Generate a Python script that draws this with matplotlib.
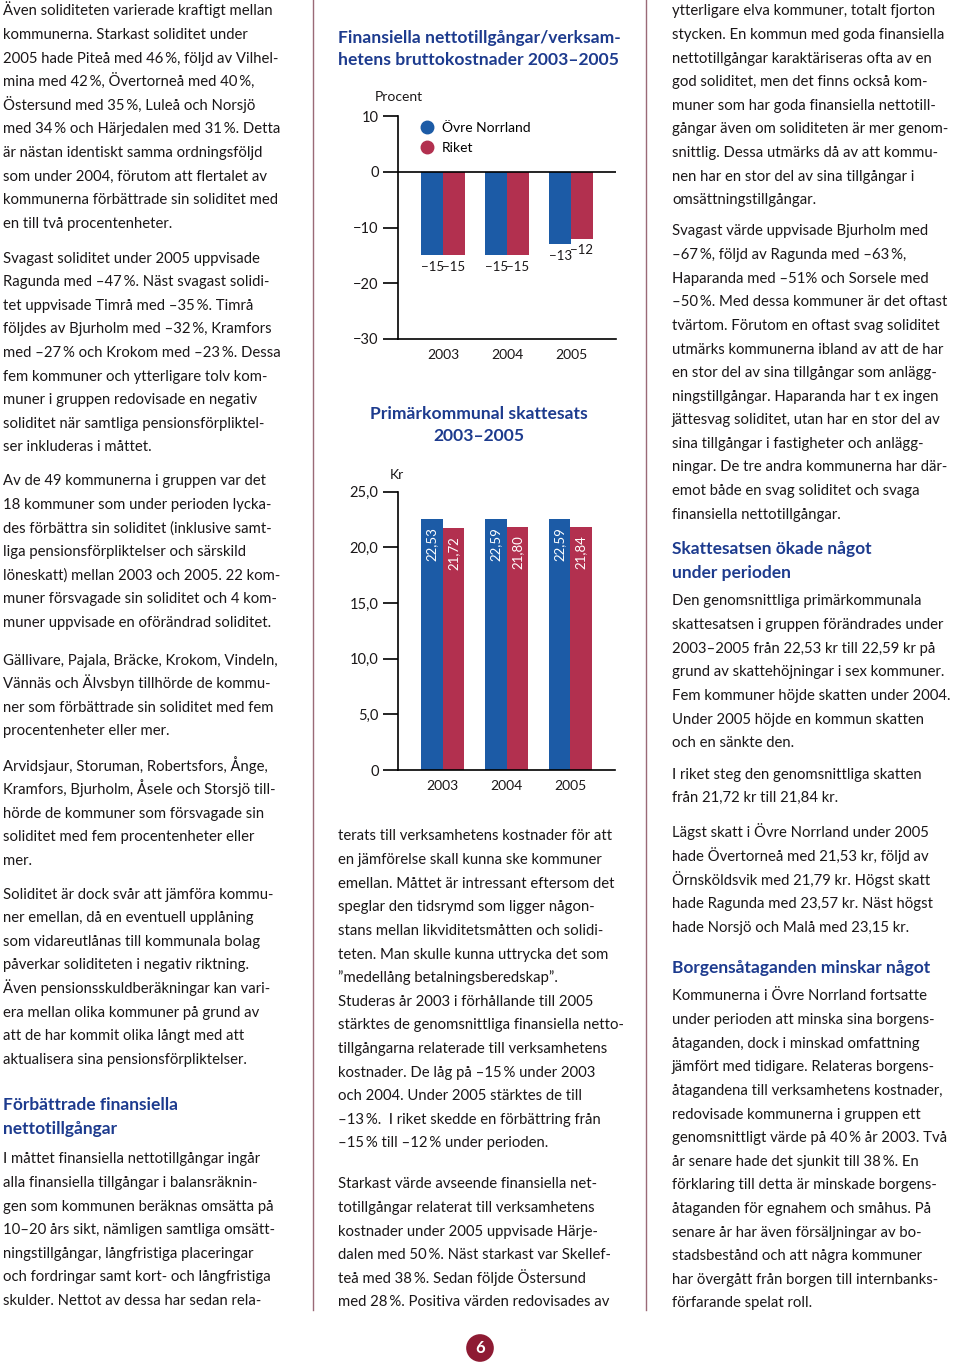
import matplotlib.pyplot as plt
from matplotlib.lines import Line2D

plt.rcParams['font.family'] = ['Lato', 'DejaVu Sans']

W, H = 960, 1368
TXT = '#1a1718'
HEAD = '#1d3b8e'
BLUE = '#1c5ba6'
RED = '#b2304f'
RULE = '#9a6a77'

# chart data
years = ['2003', '2004', '2005']
netto_norr = [-15, -15, -13]
netto_riket = [-15, -15, -12]
skatt_norr = [22.53, 22.59, 22.59]
skatt_riket = [21.72, 21.80, 21.84]

# page text, one list per paragraph
col1 = [
    ["Även soliditeten varierade kraftigt mellan",
     "kommunerna. Starkast soliditet under",
     "2005 hade Piteå med 46\u2009%, följd av Vilhel-",
     "mina med 42\u2009%, Övertorneå med 40\u2009%,",
     "Östersund med 35\u2009%, Luleå och Norsjö",
     "med 34\u2009% och Härjedalen med 31\u2009%. Detta",
     "är nästan identiskt samma ordningsföljd",
     "som under 2004, förutom att flertalet av",
     "kommunerna förbättrade sin soliditet med",
     "en till två procentenheter."],
    ["Svagast soliditet under 2005 uppvisade",
     "Ragunda med –47\u2009%. Näst svagast solidi-",
     "tet uppvisade Timrå med –35\u2009%. Timrå",
     "följdes av Bjurholm med –32\u2009%, Kramfors",
     "med –27\u2009% och Krokom med –23\u2009%. Dessa",
     "fem kommuner och ytterligare tolv kom-",
     "muner i gruppen redovisade en negativ",
     "soliditet när samtliga pensionsförpliktel-",
     "ser inkluderas i måttet."],
    ["Av de 49 kommunerna i gruppen var det",
     "18 kommuner som under perioden lycka-",
     "des förbättra sin soliditet (inklusive samt-",
     "liga pensionsförpliktelser och särskild",
     "löneskatt) mellan 2003 och 2005. 22 kom-",
     "muner försvagade sin soliditet och 4 kom-",
     "muner uppvisade en oförändrad soliditet."],
    ["Gällivare, Pajala, Bräcke, Krokom, Vindeln,",
     "Vännäs och Älvsbyn tillhörde de kommu-",
     "ner som förbättrade sin soliditet med fem",
     "procentenheter eller mer."],
    ["Arvidsjaur, Storuman, Robertsfors, Ånge,",
     "Kramfors, Bjurholm, Åsele och Storsjö till-",
     "hörde de kommuner som försvagade sin",
     "soliditet med fem procentenheter eller",
     "mer."],
    ["Soliditet är dock svår att jämföra kommu-",
     "ner emellan, då en eventuell upplåning",
     "som vidareutlånas till kommunala bolag",
     "påverkar soliditeten i negativ riktning.",
     "Även pensionsskuldberäkningar kan vari-",
     "era mellan olika kommuner på grund av",
     "att de har kommit olika långt med att",
     "aktualisera sina pensionsförpliktelser."],
    ["I måttet finansiella nettotillgångar ingår",
     "alla finansiella tillgångar i balansräknin-",
     "gen som kommunen beräknas omsätta på",
     "10–20 års sikt, nämligen samtliga omsätt-",
     "ningstillgångar, långfristiga placeringar",
     "och fordringar samt kort- och långfristiga",
     "skulder. Nettot av dessa har sedan rela-"],
]
col1_y = [10, 257, 480, 659, 765, 893, 1158]

col2 = [
    ["terats till verksamhetens kostnader för att",
     "en jämförelse skall kunna ske kommuner",
     "emellan. Måttet är intressant eftersom det",
     "speglar den tidsrymd som ligger någon-",
     "stans mellan likviditetsmåtten och solidi-",
     "teten. Man skulle kunna uttrycka det som",
     "”medellång betalningsberedskap”.",
     "Studeras år 2003 i förhållande till 2005",
     "stärktes de genomsnittliga finansiella netto-",
     "tillgångarna relaterade till verksamhetens",
     "kostnader. De låg på –15\u2009% under 2003",
     "och 2004. Under 2005 stärktes de till",
     "–13\u2009%.  I riket skedde en förbättring från",
     "–15\u2009% till –12\u2009% under perioden."],
    ["Starkast värde avseende finansiella net-",
     "totillgångar relaterat till verksamhetens",
     "kostnader under 2005 uppvisade Härje-",
     "dalen med 50\u2009%. Näst starkast var Skellef-",
     "teå med 38\u2009%. Sedan följde Östersund",
     "med 28\u2009%. Positiva värden redovisades av"],
]
col2_y = [835, 1183]

col3 = [
    ["ytterligare elva kommuner, totalt fjorton",
     "stycken. En kommun med goda finansiella",
     "nettotillgångar karaktäriseras ofta av en",
     "god soliditet, men det finns också kom-",
     "muner som har goda finansiella nettotill-",
     "gångar även om soliditeten är mer genom-",
     "snittlig. Dessa utmärks då av att kommu-",
     "nen har en stor del av sina tillgångar i",
     "omsättningstillgångar."],
    ["Svagast värde uppvisade Bjurholm med",
     "–67\u2009%, följd av Ragunda med –63\u2009%,",
     "Haparanda med –51% och Sorsele med",
     "–50\u2009%. Med dessa kommuner är det oftast",
     "tvärtom. Förutom en oftast svag soliditet",
     "utmärks kommunerna ibland av att de har",
     "en stor del av sina tillgångar som anlägg-",
     "ningstillgångar. Haparanda har t ex ingen",
     "jättesvag soliditet, utan har en stor del av",
     "sina tillgångar i fastigheter och anlägg-",
     "ningar. De tre andra kommunerna har där-",
     "emot både en svag soliditet och svaga",
     "finansiella nettotillgångar."],
    ["Den genomsnittliga primärkommunala",
     "skattesatsen i gruppen förändrades under",
     "2003–2005 från 22,53 kr till 22,59 kr på",
     "grund av skattehöjningar i sex kommuner.",
     "Fem kommuner höjde skatten under 2004.",
     "Under 2005 höjde en kommun skatten",
     "och en sänkte den."],
    ["I riket steg den genomsnittliga skatten",
     "från 21,72 kr till 21,84 kr."],
    ["Lägst skatt i Övre Norrland under 2005",
     "hade Övertorneå med 21,53 kr, följd av",
     "Örnsköldsvik med 21,79 kr. Högst skatt",
     "hade Ragunda med 23,57 kr. Näst högst",
     "hade Norsjö och Malå med 23,15 kr."],
    ["Kommunerna i Övre Norrland fortsatte",
     "under perioden att minska sina borgens-",
     "åtaganden, dock i minskad omfattning",
     "jämfört med tidigare. Relateras borgens-",
     "åtagandena till verksamhetens kostnader,",
     "redovisade kommunerna i gruppen ett",
     "genomsnittligt värde på 40\u2009% år 2003. Två",
     "år senare hade det sjunkit till 38\u2009%. En",
     "förklaring till detta är minskade borgens-",
     "åtaganden för egnahem och småhus. På",
     "senare år har även försäljningar av bo-",
     "stadsbestånd och att några kommuner",
     "har övergått från borgen till internbanks-",
     "förfarande spelat roll."],
]
col3_y = [10, 230, 600, 773, 832, 995]

headings = [
    (3, 1104, "Förbättrade finansiella"),
    (3, 1128, "nettotillgångar"),
    (672, 548, "Skattesatsen ökade något"),
    (672, 572, "under perioden"),
    (672, 967, "Borgensåtaganden minskar något"),
]

fig = plt.figure(figsize=(W / 100, H / 100), dpi=100, facecolor='white')


def fx(x):
    return x / W


def fy(y):
    return 1 - y / H


LS = 23.6
BODY = 10.7


def column(x, starts, paras):
    for y0, lines in zip(starts, paras):
        for i, line in enumerate(lines):
            fig.text(fx(x), fy(y0 + i * LS + 5.5), line, fontsize=BODY,
                     color=TXT, va='baseline', ha='left')


column(3, col1_y, col1)
column(338, col2_y, col2)
column(672, col3_y, col3)

for x, y, s in headings:
    fig.text(fx(x), fy(y + 6), s, fontsize=12.5, color=HEAD,
             weight='bold', va='baseline', ha='left')

# column rules
fig.add_artist(Line2D([fx(313), fx(313)], [fy(0), fy(1310)], color=RULE, lw=1))
fig.add_artist(Line2D([fx(646), fx(646)], [fy(0), fy(1310)], color=RULE, lw=1))

# chart titles
for y, s in [(38, "Finansiella nettotillgångar/verksam-"),
             (60, "hetens bruttokostnader 2003–2005"),
             (414, "Primärkommunal skattesats"),
             (436, "2003–2005")]:
    fig.text(fx(479), fy(y), s, fontsize=12.6, weight='bold', color=HEAD,
             ha='center', va='center')

pos = range(len(years))
bw = 0.336


def style_axes(ax):
    for s in ['top', 'right']:
        ax.spines[s].set_visible(False)
    ax.spines['left'].set_linewidth(1.2)
    ax.spines['bottom'].set_linewidth(1.2)
    ax.tick_params(axis='y', length=10.5, width=1.2, pad=3.5, labelsize=10.5,
                   labelcolor=TXT)
    ax.tick_params(axis='x', length=0, pad=7, labelsize=10, labelcolor=TXT)
    ax.set_xticks(list(pos))
    ax.set_xticklabels(years)
    ax.set_xlim(-0.703, 2.703)
    ax.patch.set_alpha(0)


# chart 1
ax1 = fig.add_axes([fx(398), fy(339), (616 - 398) / W, (339 - 116) / H])
b1 = ax1.bar([p - bw / 2 for p in pos], netto_norr, bw, color=BLUE)
b2 = ax1.bar([p + bw / 2 for p in pos], netto_riket, bw, color=RED)
ax1.axhline(0, color='black', lw=1.2)
ax1.set_ylim(-30, 10)
ax1.set_yticks([10, 0, -10, -20, -30])
ax1.set_yticklabels(['10', '0', '\u221210', '\u221220', '\u221230'])
style_axes(ax1)
ax1.bar_label(b1, labels=['\u2212%d' % -v for v in netto_norr], padding=4,
              fontsize=9.5, color=TXT)
ax1.bar_label(b2, labels=['\u2212%d' % -v for v in netto_riket], padding=4,
              fontsize=9.5, color=TXT)
fig.text(fx(375), fy(97), 'Procent', fontsize=10, color=TXT,
         va='center', ha='left')
handles = [Line2D([], [], marker='o', ls='', color=BLUE, markersize=9),
           Line2D([], [], marker='o', ls='', color=RED, markersize=9)]
ax1.legend(handles, ['Övre Norrland', 'Riket'], loc='upper left',
           bbox_to_anchor=(0.045, 1.0), frameon=False, fontsize=10,
           handletextpad=0.05, labelspacing=0.6, borderaxespad=0)

# chart 2
ax2 = fig.add_axes([fx(398), fy(770), (615 - 398) / W, (770 - 491.7) / H])
c1 = ax2.bar([p - bw / 2 for p in pos], skatt_norr, bw, color=BLUE)
c2 = ax2.bar([p + bw / 2 for p in pos], skatt_riket, bw, color=RED)
ax2.set_ylim(0, 25)
ax2.set_yticks([0, 5, 10, 15, 20, 25])
ax2.set_yticklabels(['0', '5,0', '10,0', '15,0', '20,0', '25,0'])
style_axes(ax2)
for xs, vals in [([p - bw / 2 for p in pos], skatt_norr),
                 ([p + bw / 2 for p in pos], skatt_riket)]:
    for x, v in zip(xs, vals):
        ax2.annotate(('%.2f' % v).replace('.', ','), (x, v), xytext=(0, -6),
                     textcoords='offset points', rotation=90, ha='center',
                     va='top', color='white', fontsize=9.5)
fig.text(fx(390), fy(475), 'Kr', fontsize=10, color=TXT,
         va='center', ha='left')

# page number
fig.text(fx(480), fy(1348), '6', fontsize=12, weight='bold', color='white',
         ha='center', va='center',
         bbox=dict(boxstyle='circle,pad=0.35', fc='#8e1b33', ec='none'))

fig.savefig('out.png', dpi=100, facecolor='white')
